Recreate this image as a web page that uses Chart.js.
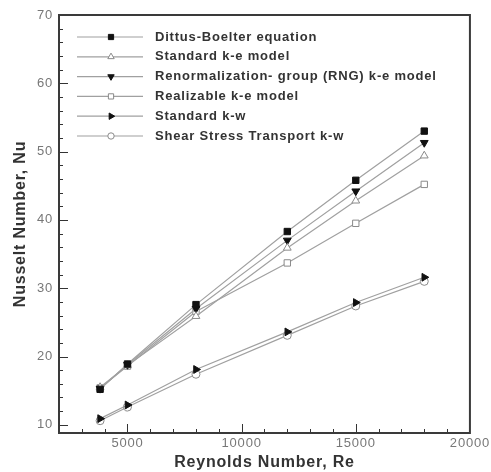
<!DOCTYPE html>
<html lang="en">
<head>
  <meta charset="UTF-8" />
  <title>Nusselt Number vs Reynolds Number</title>
  <script src="https://cdn.jsdelivr.net/npm/chart.js"></script>
  <style>
    html, body {
      margin: 0;
      padding: 0;
      background-color: #fff;
    }
    #wrap {
      position: relative;
      width: 491px;
      height: 472px;
    }
  </style>
</head>
<body>
  <div id="wrap"><canvas id="graph" width="491" height="472"></canvas></div>

  <script>
    // Reynolds numbers of the test points
    const reynolds = [3800, 5000, 8000, 12000, 15000, 18000];

    // Nusselt number for each correlation / turbulence model
    const dittusBoelter = [15.2, 18.9, 27.6, 38.3, 45.8, 53.0];
    const standardKe    = [15.5, 18.7, 25.9, 35.9, 42.8, 49.4];
    const rngKe         = [15.3, 18.8, 27.0, 37.0, 44.2, 51.3];
    const realizableKe  = [15.4, 18.6, 26.6, 33.7, 39.5, 45.2];
    const standardKw    = [10.9, 12.9, 18.1, 23.6, 27.9, 31.6];
    const sstKw         = [10.6, 12.6, 17.4, 23.1, 27.4, 31.0];

    const seriesNames = [
      'Dittus-Boelter equation',
      'Standard k-e model',
      'Renormalization- group (RNG) k-e model',
      'Realizable k-e model',
      'Standard k-w',
      'Shear Stress Transport k-w'
    ];

    const xTicks = [5000, 10000, 15000, 20000];
    const yTicks = [10, 20, 30, 40, 50, 60, 70];

    const lineColor = '#a0a0a0';
    const openColor = '#8a8a8a';
    const fontFamily = '"Liberation Sans", Arial, sans-serif';

    function makeSet(i, values, style, rotation, filled, radius) {
      return {
        label: seriesNames[i],
        data: values.map((v, k) => ({ x: reynolds[k], y: v })),
        borderColor: lineColor,
        borderWidth: 1.2,
        pointStyle: style,
        rotation: rotation,
        pointRadius: radius,
        pointBorderWidth: 1,
        pointBorderColor: filled ? '#111' : openColor,
        pointBackgroundColor: filled ? '#111' : '#fff',
        fill: false,
        tension: 0
      };
    }

    const datasets = [
      makeSet(0, dittusBoelter, 'rect', 0, true, 4.5),
      makeSet(1, standardKe, 'triangle', 0, false, 4.5),
      makeSet(2, rngKe, 'triangle', 180, true, 4.5),
      makeSet(3, realizableKe, 'rect', 0, false, 4.5),
      makeSet(4, standardKw, 'triangle', 90, true, 4.5),
      makeSet(5, sstKw, 'circle', 0, false, 4)
    ];

    // wider glyph spacing for all text on the canvas
    const spacing = {
      id: 'spacing',
      beforeDraw(chart) {
        chart.ctx.letterSpacing = '0.8px';
      }
    };

    // inward ticks (major + minor) and the box frame
    const frameTicks = {
      id: 'frameTicks',
      afterDatasetsDraw(chart) {
        const { ctx, chartArea: a, scales } = chart;
        const xs = scales.x, ys = scales.y;
        ctx.save();
        ctx.strokeStyle = '#333';
        ctx.lineWidth = 1;
        for (let v = 3000; v < 20000; v += 1000) {
          const px = Math.round(xs.getPixelForValue(v)) + 0.5;
          const len = v % 5000 === 0 ? 9 : 4;
          ctx.beginPath();
          ctx.moveTo(px, a.bottom);
          ctx.lineTo(px, a.bottom - len);
          ctx.stroke();
        }
        for (let v = 10; v < 70; v += 2) {
          const py = Math.round(ys.getPixelForValue(v)) + 0.5;
          const len = v % 10 === 0 ? 9 : 4;
          ctx.beginPath();
          ctx.moveTo(a.left, py);
          ctx.lineTo(a.left + len, py);
          ctx.stroke();
        }
        ctx.strokeStyle = '#3a3a3a';
        ctx.lineWidth = 2;
        ctx.strokeRect(a.left, a.top, a.right - a.left, a.bottom - a.top);
        ctx.restore();
      }
    };

    // legend: line sample with marker in the middle, then the label
    const lineLegend = {
      id: 'lineLegend',
      afterDraw(chart) {
        const { ctx } = chart;
        const x0 = 77, x1 = 143, xm = 111, tx = 155;
        const y0 = 37, dy = 19.8;
        ctx.save();
        ctx.font = 'bold 13px ' + fontFamily;
        ctx.letterSpacing = '0.8px';
        ctx.textBaseline = 'middle';
        chart.data.datasets.forEach((ds, i) => {
          const y = y0 + i * dy;
          ctx.strokeStyle = ds.borderColor;
          ctx.lineWidth = 1.2;
          ctx.beginPath();
          ctx.moveTo(x0, y);
          ctx.lineTo(x1, y);
          ctx.stroke();
          ctx.fillStyle = ds.pointBackgroundColor;
          ctx.strokeStyle = ds.pointBorderColor;
          ctx.lineWidth = ds.pointBorderWidth;
          Chart.helpers.drawPoint(ctx, {
            pointStyle: ds.pointStyle,
            rotation: ds.rotation,
            radius: ds.pointRadius - 0.8,
            borderWidth: ds.pointBorderWidth
          }, xm, y);
          ctx.fillStyle = '#333';
          ctx.fillText(ds.label, tx, y);
        });
        ctx.restore();
      }
    };

    const ctx = document.getElementById('graph').getContext('2d');
    const chart = new Chart(ctx, {
      type: 'line',
      data: { datasets: datasets },
      plugins: [spacing, frameTicks, lineLegend],
      options: {
        responsive: false,
        animation: false,
        layout: { padding: { top: 15, right: 20, left: 0, bottom: 0 } },
        plugins: {
          legend: { display: false },
          tooltip: { enabled: false }
        },
        scales: {
          x: {
            type: 'linear',
            min: 2000,
            max: 20000,
            afterBuildTicks: s => { s.ticks = xTicks.map(v => ({ value: v })); },
            afterFit: s => { s.height = 39; },
            grid: { display: false, drawTicks: false },
            border: { display: false },
            ticks: {
              color: '#777',
              padding: 3,
              maxRotation: 0,
              callback: v => String(v),
              font: { family: fontFamily, size: 13 }
            },
            title: {
              display: true,
              text: 'Reynolds Number, Re',
              color: '#333',
              padding: { top: 0, bottom: 0 },
              font: { family: fontFamily, size: 16, weight: 'bold' }
            }
          },
          y: {
            min: 8.8,
            max: 70,
            afterBuildTicks: s => { s.ticks = yTicks.map(v => ({ value: v })); },
            afterFit: s => { s.width = 59; },
            grid: { display: false, drawTicks: false },
            border: { display: false },
            ticks: {
              color: '#777',
              padding: 6,
              callback: v => String(v),
              font: { family: fontFamily, size: 13 }
            },
            title: {
              display: true,
              text: 'Nusselt Number, Nu',
              color: '#333',
              padding: { top: 11, bottom: 0 },
              font: { family: fontFamily, size: 16, weight: 'bold' }
            }
          }
        }
      }
    });
  </script>
</body>
</html>
